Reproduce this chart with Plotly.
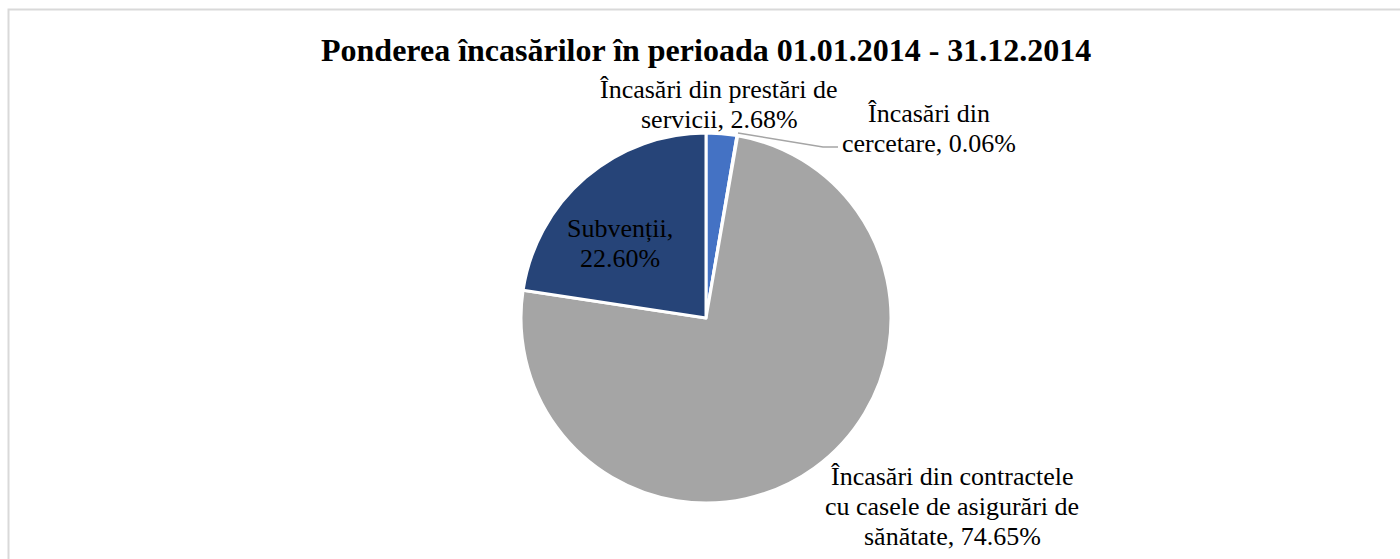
import plotly.graph_objects as go

labels = ["Încasări din prestări de servicii", "Încasări din cercetare",
          "Încasări din contractele cu casele de asigurări de sănătate", "Subvenții"]
values = [2.68, 0.06, 74.65, 22.60]
colors = ["#4472C4", "#ED7D31", "#A5A5A5", "#264478"]
label_lines = [["Încasări din prestări de", "servicii, {:.2f}%"],
               ["Încasări din", "cercetare, {:.2f}%"],
               ["Încasări din contractele", "cu casele de asigurări de", "sănătate, {:.2f}%"],
               ["Subvenții,", "{:.2f}%"]]
label_x = [719, 929, 952, 620]
label_y_first = [90, 113, 476, 228]
line_step = 30
title = "Ponderea încasărilor în perioada 01.01.2014 - 31.12.2014"

W, H = 1400, 559
cx, cy, r = 706, 318, 185

fig = go.Figure(go.Pie(
    labels=labels, values=values, sort=False, direction="clockwise", rotation=0,
    marker=dict(colors=colors, line=dict(color="white", width=3)),
    textinfo="none", hoverinfo="label+percent", showlegend=False,
    domain=dict(x=[(cx - r) / W, (cx + r) / W], y=[(H - cy - r) / H, (H - cy + r) / H]),
))

font = "Liberation Serif, Times New Roman, serif"
for lines, v, x, y0 in zip(label_lines, values, label_x, label_y_first):
    for i, ln in enumerate(lines):
        fig.add_annotation(x=x / W, y=1 - (y0 + i * line_step) / H, xref="paper", yref="paper",
                           xanchor="center", yanchor="middle",
                           text=ln.format(v), showarrow=False, align="center",
                           font=dict(family=font, size=26, color="#000000"))

# leader line for cercetare
fig.add_shape(type="path", xref="paper", yref="paper",
              path="M {} {} L {} {} L {} {}".format(738 / W, 1 - 133 / H, 823 / W, 1 - 147 / H,
                                                    838 / W, 1 - 147 / H),
              line=dict(color="#A5A5A5", width=1.5))

# chart border
fig.add_shape(type="rect", xref="paper", yref="paper",
              x0=8.5 / W, y0=-0.05, x1=1.01, y1=1 - 9.5 / H,
              line=dict(color="#D9D9D9", width=2), fillcolor="rgba(0,0,0,0)")

fig.add_annotation(x=cx / W, y=1 - 50 / H, xref="paper", yref="paper",
                   xanchor="center", yanchor="middle",
                   text="<b>" + title + "</b>",
                   showarrow=False, font=dict(family=font, size=32, color="#000000"))

fig.update_layout(width=W, height=H, margin=dict(l=0, r=0, t=0, b=0),
                  paper_bgcolor="white", plot_bgcolor="white")
fig.write_html("out.html", config={"displayModeBar": False},
               post_script="document.body.style.margin='0';document.body.style.overflow='hidden';")
